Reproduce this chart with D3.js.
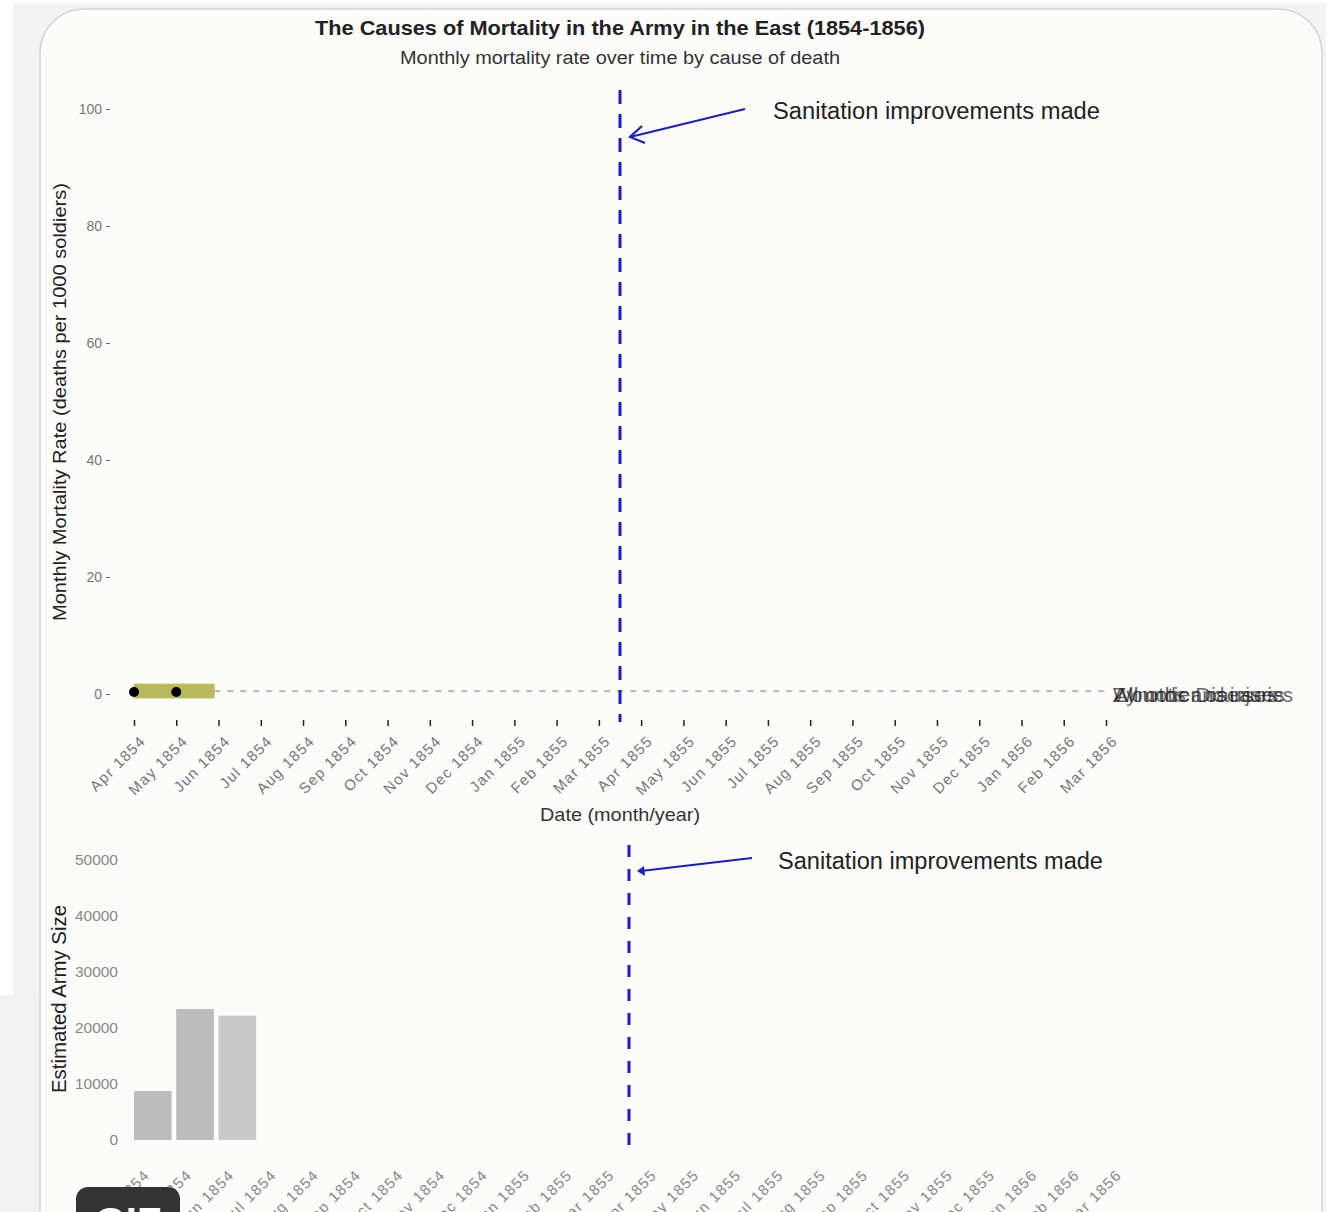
<!DOCTYPE html>
<html><head><meta charset="utf-8">
<script src="https://cdn.jsdelivr.net/npm/d3@7"></script>
<style>
body{margin:0;background:#fff;}
svg{display:block;font-family:"Liberation Sans",Arial,sans-serif;}
</style></head>
<body><svg id="chart" width="1332" height="1212"></svg>
<script>
// ---- data ----
const months = ["Apr 1854","May 1854","Jun 1854","Jul 1854","Aug 1854","Sep 1854","Oct 1854","Nov 1854","Dec 1854",
  "Jan 1855","Feb 1855","Mar 1855","Apr 1855","May 1855","Jun 1855","Jul 1855","Aug 1855","Sep 1855","Oct 1855",
  "Nov 1855","Dec 1855","Jan 1856","Feb 1856","Mar 1856"];
const rateTicks = [0,20,40,60,80,100];
const armyTicks = [0,10000,20000,30000,40000,50000];
const causes = ["Zymotic Diseases","Wounds and injuries","All other causes"];
// animated frame: rates shown so far (points at Apr, May 1854)
const pointMonths = ["Apr 1854","May 1854"];
const pointRates = [0,0];
const bandLow = [-0.7,-0.7];
const bandHigh = [1.7,1.7];
const armyMonths = ["Apr 1854","May 1854","Jun 1854"];
const armySize = [8750,23400,22200];
const sanitationIndex = 11.5; // mid March 1855
const annotation = "Sanitation improvements made";

// ---- drawing ----
const svg = d3.select("#chart");
const FONT = "Liberation Sans, Arial, sans-serif";
// page background pieces
svg.append("rect").attr("x",13).attr("y",3).attr("width",1313).attr("height",1212).attr("fill","#f3f3f3");
svg.append("rect").attr("x",0).attr("y",995).attr("width",40).attr("height",217).attr("fill","#f1f1f1");
svg.append("rect").attr("x",40).attr("y",9).attr("width",1282).attr("height",1260).attr("rx",44)
  .attr("fill","#fcfcfa").attr("stroke","#d6d6d6").attr("stroke-width",1.5);

// titles
svg.append("text").attr("x",620).attr("y",35).attr("text-anchor","middle")
  .attr("font-size",21).attr("font-weight","bold").attr("fill","#222")
  .attr("textLength",610).attr("lengthAdjust","spacingAndGlyphs")
  .text("The Causes of Mortality in the Army in the East (1854-1856)");
svg.append("text").attr("x",620).attr("y",64).attr("text-anchor","middle")
  .attr("font-size",18).attr("fill","#333")
  .attr("textLength",440).attr("lengthAdjust","spacingAndGlyphs")
  .text("Monthly mortality rate over time by cause of death");

const x = d3.scaleLinear().domain([0,months.length-1]).range([134,1106]);
const idx = m => months.indexOf(m);
const step = x(1)-x(0);

// ---- top panel ----
const yR = d3.scaleLinear().domain([0,100]).range([694,109]);
const gy = svg.append("g").attr("transform","translate(110,0)")
  .call(d3.axisLeft(yR).tickValues(rateTicks).tickSize(4).tickPadding(4));
gy.select(".domain").remove();
gy.selectAll("line").attr("stroke","#666");
gy.selectAll("text").attr("font-size",14).attr("fill","#777").attr("font-family",FONT);

const gx = svg.append("g").attr("transform","translate(0,720)")
  .call(d3.axisBottom(x).tickValues(d3.range(months.length)).tickFormat(i=>months[i]).tickSize(6));
gx.select(".domain").remove();
gx.selectAll("line").attr("stroke","#222").attr("stroke-width",1.5);
gx.selectAll("text").attr("font-size",15).attr("fill","#777").attr("font-family",FONT)
  .attr("letter-spacing",1.3)
  .attr("text-anchor","end").attr("dy",0).attr("y",0)
  .attr("transform","translate(12,22) rotate(-45)");

svg.append("text").attr("transform","translate(66,402) rotate(-90)").attr("text-anchor","middle")
  .attr("font-size",19).attr("fill","#222")
  .attr("textLength",438).attr("lengthAdjust","spacingAndGlyphs")
  .text("Monthly Mortality Rate (deaths per 1000 soldiers)");
svg.append("text").attr("x",620).attr("y",821).attr("text-anchor","middle")
  .attr("font-size",19).attr("fill","#333")
  .attr("textLength",160).attr("lengthAdjust","spacingAndGlyphs")
  .text("Date (month/year)");

// baseline (remaining months) dashed
const lastShown = idx(pointMonths[pointMonths.length-1]);
svg.append("line").attr("x1",x(lastShown)+step*0.9).attr("x2",x(months.length-1))
  .attr("y1",yR(0.5)).attr("y2",yR(0.5)).attr("stroke","#bdbdbd").attr("stroke-width",2.2).attr("stroke-dasharray","6,7");

// band
const bandData = pointMonths.map((m,i)=>({i:idx(m),lo:bandLow[i],hi:bandHigh[i]}));
const bandPts = bandData.concat([{i:bandData[bandData.length-1].i+0.9,lo:bandLow[bandLow.length-1],hi:bandHigh[bandHigh.length-1]}]);
svg.append("path").datum(bandPts)
  .attr("d",d3.area().x(d=>x(d.i)).y0(d=>yR(d.lo)).y1(d=>yR(d.hi)))
  .attr("fill","#b8b85c").attr("stroke","#c8c86a").attr("stroke-width",1);
svg.selectAll("circle.pt").data(pointMonths).enter().append("circle").attr("class","pt")
  .attr("cx",d=>x(idx(d))).attr("cy",(d,i)=>yR(pointRates[i])-2).attr("r",5).attr("fill","#000");

// overlapping cause labels
svg.selectAll("text.cause").data(causes).enter().append("text").attr("class","cause")
  .attr("x",x(months.length-1)+7).attr("y",yR(0)+8).attr("font-size",20).attr("fill","#222")
  .attr("fill-opacity",0.7).attr("textLength",(d,i)=>[172,180,165][i]).attr("lengthAdjust","spacingAndGlyphs")
  .text(d=>d);

// sanitation line top
const blue = "#1c1cc8";
svg.append("line").attr("x1",x(sanitationIndex)).attr("x2",x(sanitationIndex)).attr("y1",90).attr("y2",722)
  .attr("stroke",blue).attr("stroke-width",3).attr("stroke-dasharray","14,10");
svg.append("line").attr("x1",745).attr("y1",109).attr("x2",x(sanitationIndex)+10).attr("y2",137)
  .attr("stroke",blue).attr("stroke-width",2);
svg.append("path").attr("d",`M${x(sanitationIndex)+22},126 L${x(sanitationIndex)+10},137 L${x(sanitationIndex)+25},143`)
  .attr("fill","none").attr("stroke",blue).attr("stroke-width",2.2);
svg.append("text").attr("x",773).attr("y",119).attr("font-size",23).attr("fill","#222")
  .attr("textLength",327).attr("lengthAdjust","spacingAndGlyphs").text(annotation);

// ---- bottom panel ----
const yA = d3.scaleLinear().domain([0,50000]).range([1140,860]);
const gyA = svg.append("g").attr("transform","translate(119,0)")
  .call(d3.axisLeft(yA).tickValues(armyTicks).tickFormat(d3.format("d")).tickSize(0).tickPadding(1));
gyA.select(".domain").remove();
gyA.selectAll("text").attr("font-size",15.5).attr("fill","#888").attr("font-family",FONT);
svg.append("text").attr("transform","translate(66,999) rotate(-90)").attr("text-anchor","middle")
  .attr("font-size",20).attr("fill","#222")
  .attr("textLength",188).attr("lengthAdjust","spacingAndGlyphs").text("Estimated Army Size");

const barColors = ["#bcbcbc","#bcbcbc","#c9c9c9"];
svg.selectAll("rect.bar").data(armyMonths).enter().append("rect").attr("class","bar")
  .attr("x",d=>x(idx(d))).attr("width",step*0.89)
  .attr("y",(d,i)=>yA(armySize[i])).attr("height",(d,i)=>yA(0)-yA(armySize[i]))
  .attr("fill",(d,i)=>barColors[i]);

const gxA = svg.append("g").attr("transform","translate(0,1150)")
  .call(d3.axisBottom(x).tickValues(d3.range(months.length)).tickFormat(i=>months[i]).tickSize(0));
gxA.select(".domain").remove();
gxA.selectAll("text").attr("font-size",15).attr("fill","#888").attr("font-family",FONT)
  .attr("letter-spacing",1.3)
  .attr("text-anchor","end").attr("dy",0).attr("y",0)
  .attr("transform","translate(16,26) rotate(-45)");

const xb = x(sanitationIndex)+9;
svg.append("line").attr("x1",xb).attr("x2",xb).attr("y1",845).attr("y2",1156)
  .attr("stroke",blue).attr("stroke-width",3).attr("stroke-dasharray","12,12");
svg.append("line").attr("x1",752).attr("y1",858).attr("x2",xb+12).attr("y2",871)
  .attr("stroke",blue).attr("stroke-width",2.2);
svg.append("path").attr("d",`M${xb+8},871 L${xb+15},866 L${xb+16},876 Z`).attr("fill",blue);
svg.append("text").attr("x",778).attr("y",869).attr("font-size",23).attr("fill","#222")
  .attr("textLength",325).attr("lengthAdjust","spacingAndGlyphs").text(annotation);

// GIF badge
svg.append("rect").attr("x",76).attr("y",1187).attr("width",104).attr("height",50).attr("rx",12).attr("fill","#333");
svg.append("text").attr("x",128).attr("y",1236).attr("text-anchor","middle").attr("font-size",40)
  .attr("font-weight","bold").attr("fill","#fff").text("GIF");
</script></body></html>
